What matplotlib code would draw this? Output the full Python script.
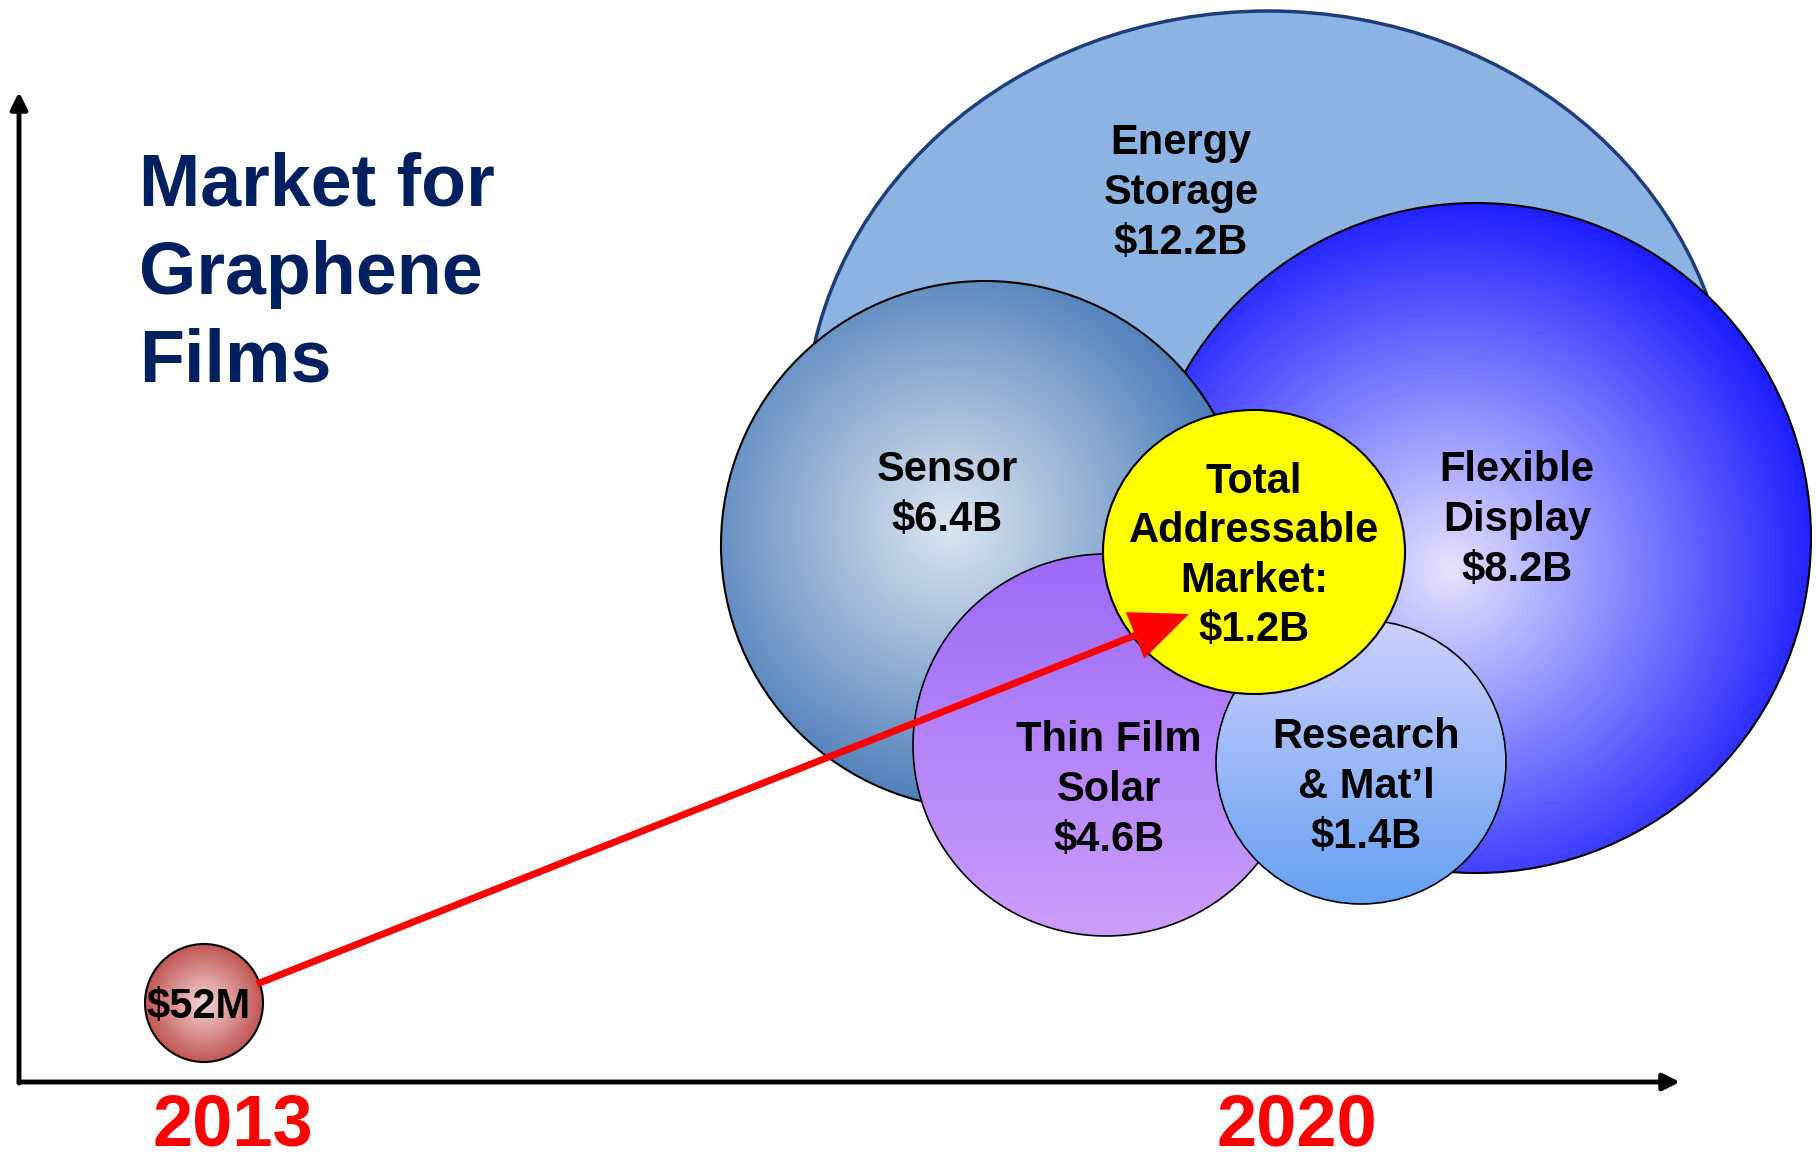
import matplotlib
matplotlib.use("Agg")
import matplotlib.pyplot as plt
import numpy as np
from matplotlib.patches import Ellipse
from matplotlib.colors import to_rgb

plt.rcParams["font.family"] = ["Liberation Sans", "DejaVu Sans"]

# data
segments = ["Energy\nStorage", "Flexible\nDisplay", "Sensor", "Thin Film\nSolar",
            "Research\n& Mat\u2019l", "Total\nAddressable\nMarket:"]
values = ["$12.2B", "$8.2B", "$6.4B", "$4.6B", "$1.4B", "$1.2B"]
start_value = "$52M"
years = ["2013", "2020"]
title_lines = ["Market for", "Graphene", "Films"]

# layout (pixel coords of the 1816x1162 canvas)
centers = [(1268, 428), (1476, 538), (985, 545), (1106, 745), (1361, 762), (1254, 552)]
radii = [(463, 417), (335, 335), (264, 264), (193, 191), (145, 142), (151, 142)]
label_pos = [(1181, 193), (1517, 520), (947, 495), (1109, 790), (1366, 787), (1254, 556)]
fills = [
    ("flat", "#8db3e2", None, None),
    ("radial", "#e4e4ff", "#1414ff", (1450, 570, 390)),
    ("radial", "#dde6f1", "#4f7fba", (950, 525, 280)),
    ("linear", "#9c6af7", "#cc9dfb", None),
    ("linear", "#cfd0fd", "#65a1f2", None),
    ("flat", "#ffff00", None, None),
]
edges = ["#1f3d7a", "black", "black", "black", "black", "black"]
edge_w = [2.5, 1.5, 1.5, 1.2, 1.2, 1.5]

W, H = 1816, 1162
fig = plt.figure(figsize=(W / 100, H / 100), dpi=100)
ax = fig.add_axes([0, 0, 1, 1])


def bubble(c, r, fill, edge, lw, z):
    cx, cy = c
    rx, ry = r
    kind, c0, c1, foc = fill
    e = Ellipse((cx, cy), 2 * rx, 2 * ry, facecolor=c0 if kind == "flat" else "none",
                edgecolor=edge, lw=lw, zorder=z + 0.1)
    ax.add_patch(e)
    if kind != "flat":
        xs = np.linspace(cx - rx, cx + rx, 400)
        ys = np.linspace(cy - ry, cy + ry, 400)
        X, Y = np.meshgrid(xs, ys)
        if kind == "radial":
            fx, fy, R = foc
            t = np.clip(np.hypot(X - fx, Y - fy) / R, 0, 1)
        else:
            t = (Y - (cy - ry)) / (2 * ry)
        a, b = np.array(to_rgb(c0)), np.array(to_rgb(c1))
        img = a * (1 - t)[..., None] + b * t[..., None]
        im = ax.imshow(img, extent=(cx - rx, cx + rx, cy - ry, cy + ry), origin="lower",
                       zorder=z, interpolation="bilinear", aspect="auto")
        im.set_clip_path(e)


for i in range(len(segments)):
    bubble(centers[i], radii[i], fills[i], edges[i], edge_w[i], i + 1)
    ax.text(label_pos[i][0], label_pos[i][1], segments[i] + "\n" + values[i],
            ha="center", va="center", fontsize=30, fontweight="bold",
            linespacing=1.31, zorder=20)

# 2013 bubble
bubble((204, 1003), (59, 59), ("radial", "#f3d6d6", "#bf4f4c", (204, 1003, 62)),
       "black", 1.5, 10)
ax.text(198, 1007, start_value, ha="center", va="center", fontsize=30,
        fontweight="bold", zorder=20)

# growth arrow
x0, y0 = 257, 984
x1, y1 = 1189, 614
ax.arrow(x0, y0, x1 - x0, y1 - y0, width=7, head_width=50, head_length=58,
         length_includes_head=True, color="red", lw=0, zorder=15)

# axes
ax.annotate("", xy=(19, 92), xytext=(19, 1083),
            arrowprops=dict(arrowstyle="-|>", lw=3.5, color="black",
                            mutation_scale=25, shrinkA=0, shrinkB=0))
ax.annotate("", xy=(1680, 1082), xytext=(19, 1082),
            arrowprops=dict(arrowstyle="-|>", lw=3.5, color="black",
                            mutation_scale=25, shrinkA=0, shrinkB=0))

# year labels
ax.text(233, 1146, years[0], ha="center", va="baseline", fontsize=52,
        fontweight="bold", color="red")
ax.text(1297, 1146, years[1], ha="center", va="baseline", fontsize=52,
        fontweight="bold", color="red")

# title
for k, line in enumerate(title_lines):
    ax.text(139, 206 + k * 88, line, ha="left", va="baseline", fontsize=53,
            fontweight="bold", color="#002060")

ax.set_xlim(0, W)
ax.set_ylim(H, 0)
ax.axis("off")

fig.savefig("out.png", dpi=100)
